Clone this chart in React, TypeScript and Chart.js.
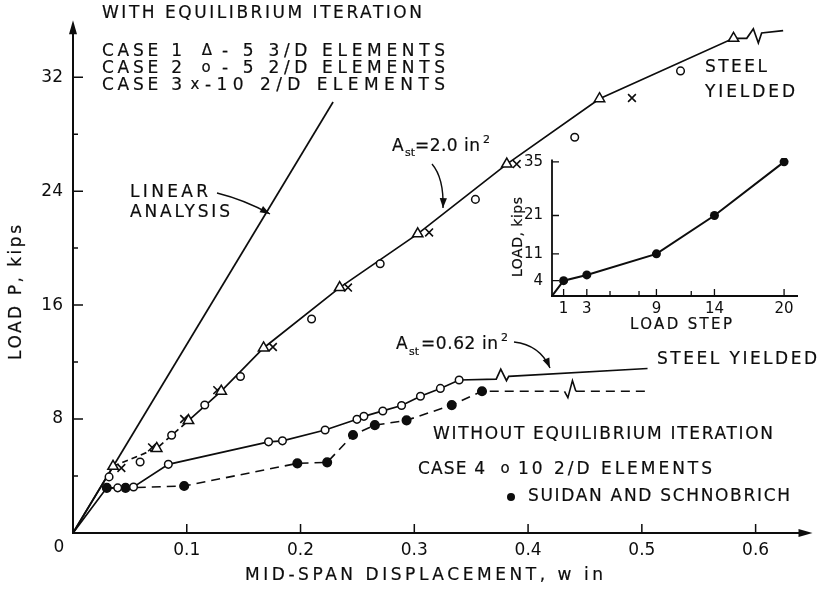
import { useEffect, useRef } from "react";
import { Chart, registerables } from "chart.js";

Chart.register(...registerables);

const FONT = '"DejaVu Sans", "Liberation Sans", sans-serif';
const INK = "#0d0d0d";

// ---- main chart: load P (kips) against mid-span displacement w (in) ----
const xTickValues = [0.1, 0.2, 0.3, 0.4, 0.5, 0.6];
const yTickValues = [8, 16, 24, 32];
const yMinorTickValues = [4, 12, 20, 28];

// linear analysis
const linearW = [0, 0.2286];
const linearP = [0, 30.26];

// A_st = 2.0 in^2, with equilibrium iteration (curve through case 1, break mark at the end)
const steel20W = [0, 0.0352, 0.0736, 0.1015, 0.1303, 0.1675, 0.2344, 0.303, 0.3813, 0.4628, 0.5806, 0.5922, 0.598, 0.6024, 0.6053, 0.6242];
const steel20P = [0, 4.68, 5.94, 7.89, 9.96, 12.99, 17.23, 21.0, 25.9, 30.49, 34.73, 34.73, 35.4, 34.4, 35.1, 35.27];

// case 1: 5 3/D elements
const case1W = [0.0352, 0.0736, 0.1015, 0.1303, 0.1675, 0.2344, 0.303, 0.3813, 0.4628, 0.5806];
const case1P = [4.68, 5.94, 7.89, 9.96, 12.99, 17.23, 21.0, 25.9, 30.49, 34.73];
// case 2: 5 2/D elements
const case2W = [0.0317, 0.059, 0.0867, 0.1158, 0.1472, 0.2097, 0.27, 0.3537, 0.441, 0.534];
const case2P = [3.94, 4.98, 6.86, 8.99, 10.99, 15.02, 18.9, 23.42, 27.78, 32.44];
// case 3: 10 2/D elements
const case3W = [0.0425, 0.0695, 0.0977, 0.1268, 0.1757, 0.2417, 0.313, 0.39, 0.4913];
const case3P = [4.56, 6.01, 8.0, 10.03, 13.06, 17.23, 21.1, 25.9, 30.54];

// A_st = 0.62 in^2, without equilibrium iteration (case 4 curve, break mark, steel yielded)
const steel062W = [0, 0.0297, 0.0393, 0.0532, 0.0838, 0.1719, 0.1841, 0.2216, 0.2496, 0.2557, 0.2723, 0.2888, 0.3054, 0.3229, 0.3394, 0.372, 0.376, 0.381, 0.383, 0.505];
const steel062P = [0, 3.17, 3.17, 3.23, 4.82, 6.4, 6.47, 7.23, 7.98, 8.19, 8.57, 8.95, 9.6, 10.15, 10.74, 10.8, 11.5, 10.7, 11.0, 11.55];

// case 4: 10 2/D elements
const case4W = [0.0393, 0.0532, 0.0838, 0.1719, 0.1841, 0.2216, 0.2496, 0.2557, 0.2723, 0.2888, 0.3054, 0.3229, 0.3394];
const case4P = [3.17, 3.23, 4.82, 6.4, 6.47, 7.23, 7.98, 8.19, 8.57, 8.95, 9.6, 10.15, 10.74];

// Suidan and Schnobrich
const suidanW = [0.0297, 0.0462, 0.0977, 0.1972, 0.2234, 0.2461, 0.2653, 0.2932, 0.3329, 0.3595];
const suidanP = [3.17, 3.17, 3.3, 4.89, 4.96, 6.88, 7.57, 7.91, 8.98, 9.95];
const suidanTailW = [0.432, 0.435, 0.439, 0.442, 0.507];
const suidanTailP = [9.95, 9.5, 10.7, 9.95, 9.95];

// ---- inset: load against load step ----
const stepTicks = [1, 3, 9, 14, 20];
const stepMinorTicks = [5, 7.5, 12];
const loadTicks = [4, 11, 21, 35];
const loadSteps = [0, 1, 3, 9, 14, 20];
const loadKips = [0, 4, 5.5, 11, 21, 35];

const INSET_LEFT = 470;
const INSET_TOP = 140;

const pts = (xs: number[], ys: number[]) => xs.map((x, i) => ({ x, y: ys[i] }));

// lettering: stretched to a given width, lightly stroked for a heavier pen line
function spaced(ctx: CanvasRenderingContext2D, text: string, x: number, y: number, width: number) {
  (ctx as any).letterSpacing = "0px";
  const w = ctx.measureText(text).width;
  const n = Array.from(text).length;
  const ls = n > 1 ? (width - w) / (n - 1) : 0;
  (ctx as any).letterSpacing = ls + "px";
  ctx.fillText(text, x, y);
  ctx.strokeText(text, x, y);
  (ctx as any).letterSpacing = "0px";
}

function label(ctx: CanvasRenderingContext2D, text: string, x: number, y: number) {
  ctx.fillText(text, x, y);
  ctx.strokeText(text, x, y);
}

function arrowHead(ctx: CanvasRenderingContext2D, x: number, y: number, ang: number, len: number, half: number) {
  ctx.beginPath();
  ctx.moveTo(x, y);
  ctx.lineTo(x - len * Math.cos(ang) + half * Math.sin(ang), y - len * Math.sin(ang) - half * Math.cos(ang));
  ctx.lineTo(x - len * Math.cos(ang) - half * Math.sin(ang), y - len * Math.sin(ang) + half * Math.cos(ang));
  ctx.closePath();
  ctx.fill();
}

function curvedArrow(ctx: CanvasRenderingContext2D, x0: number, y0: number, cx: number, cy: number, x1: number, y1: number) {
  ctx.save();
  ctx.lineWidth = 1.4;
  ctx.beginPath();
  ctx.moveTo(x0, y0);
  ctx.quadraticCurveTo(cx, cy, x1, y1);
  ctx.stroke();
  arrowHead(ctx, x1, y1, Math.atan2(y1 - cy, x1 - cx), 10, 3.6);
  ctx.restore();
}

const mainDecor = {
  id: "mainDecor",
  beforeDatasetsDraw(chart: any) {
    const { ctx } = chart;
    const xs = chart.scales.x;
    const ys = chart.scales.y;
    const x0 = xs.getPixelForValue(0);
    const y0 = ys.getPixelForValue(0);
    ctx.save();
    ctx.strokeStyle = INK;
    ctx.fillStyle = INK;
    ctx.lineWidth = 2;
    ctx.lineCap = "butt";
    // axes with arrow heads
    const yTop = ys.getPixelForValue(36);
    const xEnd = xs.getPixelForValue(0.65);
    ctx.beginPath();
    ctx.moveTo(x0, y0 + 1);
    ctx.lineTo(x0, yTop + 8);
    ctx.moveTo(x0 - 1, y0);
    ctx.lineTo(xEnd - 8, y0);
    ctx.stroke();
    arrowHead(ctx, x0, yTop, -Math.PI / 2, 14, 4);
    arrowHead(ctx, xEnd, y0, 0, 14, 4);
    // inward tick marks
    ctx.lineWidth = 1.5;
    ctx.beginPath();
    for (const v of yTickValues) {
      const y = ys.getPixelForValue(v);
      ctx.moveTo(x0, y);
      ctx.lineTo(x0 + 10, y);
    }
    for (const v of yMinorTickValues) {
      const y = ys.getPixelForValue(v);
      ctx.moveTo(x0, y);
      ctx.lineTo(x0 + 5, y);
    }
    for (const v of xTickValues) {
      const x = xs.getPixelForValue(v);
      ctx.moveTo(x, y0);
      ctx.lineTo(x, y0 - 9);
    }
    ctx.stroke();
    ctx.restore();
  },
  afterDraw(chart: any) {
    const { ctx } = chart;
    ctx.save();
    ctx.fillStyle = INK;
    ctx.strokeStyle = INK;
    ctx.lineWidth = 0.2;
    ctx.textBaseline = "middle";
    ctx.textAlign = "left";

    // origin label
    ctx.textAlign = "center";
    ctx.font = `17px ${FONT}`;
    ctx.fillText("0", 59, 548);
    ctx.textAlign = "left";
    ctx.font = `17px ${FONT}`;

    // heading and case key (with equilibrium iteration)
    spaced(ctx, "WITH EQUILIBRIUM ITERATION", 102, 14, 320);
    spaced(ctx, "CASE 1", 102, 52, 80);
    spaced(ctx, "CASE 2", 102, 69, 80);
    spaced(ctx, "CASE 3", 102, 86, 80);
    ctx.textAlign = "center";
    ctx.font = `15px ${FONT}`;
    label(ctx, "\u0394", 207, 51);
    label(ctx, "o", 206, 68);
    label(ctx, "x", 195, 85);
    ctx.textAlign = "left";
    ctx.font = `17px ${FONT}`;
    spaced(ctx, "- 5 3/D ELEMENTS", 222, 52, 223);
    spaced(ctx, "- 5 2/D ELEMENTS", 222, 69, 223);
    spaced(ctx, "-10 2/D ELEMENTS", 205, 86, 240);

    // linear analysis
    spaced(ctx, "LINEAR", 130, 193, 78);
    spaced(ctx, "ANALYSIS", 130, 213, 100);
    curvedArrow(ctx, 217, 193, 245, 200, 270, 214);

    // A_st = 2.0 in^2
    ctx.font = `17px ${FONT}`;
    label(ctx, "A", 392, 147);
    ctx.font = `11px ${FONT}`;
    label(ctx, "st", 405, 153);
    ctx.font = `17px ${FONT}`;
    spaced(ctx, "=2.0 in", 415, 147, 65);
    ctx.font = `11px ${FONT}`;
    label(ctx, "2", 483, 140);
    curvedArrow(ctx, 432, 164, 444, 178, 443, 208);

    // steel yielded (upper)
    ctx.font = `17px ${FONT}`;
    spaced(ctx, "STEEL", 705, 68, 62);
    spaced(ctx, "YIELDED", 705, 93, 90);

    // A_st = 0.62 in^2
    label(ctx, "A", 396, 345);
    ctx.font = `11px ${FONT}`;
    label(ctx, "st", 409, 352);
    ctx.font = `17px ${FONT}`;
    spaced(ctx, "=0.62 in", 421, 345, 77);
    ctx.font = `11px ${FONT}`;
    label(ctx, "2", 501, 338);
    curvedArrow(ctx, 514, 342, 540, 345, 550, 368);

    ctx.font = `17px ${FONT}`;
    spaced(ctx, "STEEL YIELDED", 657, 360, 160);

    // without equilibrium iteration key
    spaced(ctx, "WITHOUT EQUILIBRIUM ITERATION", 433, 435, 340);
    spaced(ctx, "CASE 4", 418, 470, 67);
    ctx.textAlign = "center";
    ctx.font = `15px ${FONT}`;
    label(ctx, "o", 505, 469);
    ctx.textAlign = "left";
    ctx.font = `17px ${FONT}`;
    spaced(ctx, "10 2/D ELEMENTS", 518, 470, 194);
    ctx.beginPath();
    ctx.arc(511, 497, 4, 0, Math.PI * 2);
    ctx.fill();
    spaced(ctx, "SUIDAN AND SCHNOBRICH", 528, 497, 262);

    // axis titles
    spaced(ctx, "MID-SPAN DISPLACEMENT, w in", 245, 576, 358);
    ctx.save();
    ctx.translate(17, 360);
    ctx.rotate(-Math.PI / 2);
    spaced(ctx, "LOAD P, kips", 0, 0, 135);
    ctx.restore();

    ctx.restore();
  },
};

const insetDecor = {
  id: "insetDecor",
  beforeDatasetsDraw(chart: any) {
    const { ctx } = chart;
    const xs = chart.scales.x;
    const ys = chart.scales.y;
    const x0 = xs.getPixelForValue(0);
    const y0 = ys.getPixelForValue(0);
    ctx.save();
    ctx.strokeStyle = INK;
    ctx.lineWidth = 1.8;
    ctx.beginPath();
    ctx.moveTo(x0, y0 + 1);
    ctx.lineTo(x0, ys.getPixelForValue(35.6));
    ctx.moveTo(x0 - 1, y0);
    ctx.lineTo(xs.getPixelForValue(21.2), y0);
    ctx.stroke();
    ctx.lineWidth = 1.3;
    ctx.beginPath();
    for (const v of stepTicks) {
      const x = xs.getPixelForValue(v);
      ctx.moveTo(x, y0);
      ctx.lineTo(x, y0 - 7);
    }
    for (const v of stepMinorTicks) {
      const x = xs.getPixelForValue(v);
      ctx.moveTo(x, y0);
      ctx.lineTo(x, y0 - 5);
    }
    for (const v of loadTicks) {
      const y = ys.getPixelForValue(v);
      ctx.moveTo(x0, y);
      ctx.lineTo(x0 + 7, y);
    }
    ctx.stroke();
    ctx.restore();
  },
  afterDraw(chart: any) {
    const { ctx } = chart;
    ctx.save();
    ctx.translate(-INSET_LEFT, -INSET_TOP);
    ctx.fillStyle = INK;
    ctx.strokeStyle = INK;
    ctx.lineWidth = 0.2;
    ctx.textBaseline = "middle";
    ctx.textAlign = "left";
    ctx.font = `15px ${FONT}`;
    spaced(ctx, "LOAD STEP", 630, 325, 102);
    ctx.translate(518, 277);
    ctx.rotate(-Math.PI / 2);
    ctx.font = `14px ${FONT}`;
    spaced(ctx, "LOAD, kips", 0, 0, 80);
    ctx.restore();
  },
};

function fixedTicks(values: number[]) {
  return (scale: any) => {
    scale.ticks = values.map((value) => ({ value }));
  };
}

export default function App() {
  const mainRef = useRef<HTMLCanvasElement>(null);
  const insetRef = useRef<HTMLCanvasElement>(null);

  useEffect(() => {
    document.body.style.margin = "0";
    const line = (data: any, extra: any = {}) => ({
      data,
      showLine: true,
      pointRadius: 0,
      borderColor: INK,
      borderWidth: 1.7,
      tension: 0,
      ...extra,
    });
    const marks = (data: any, extra: any) => ({
      data,
      showLine: false,
      pointBorderColor: INK,
      pointBackgroundColor: "#ffffff",
      pointBorderWidth: 1.5,
      ...extra,
    });

    const main = new Chart(mainRef.current!, {
      type: "scatter",
      data: {
        datasets: [
          marks(pts(case1W, case1P), { label: "Case 1", pointStyle: "triangle", pointRadius: 6 }),
          marks(pts(case3W, case3P), { label: "Case 3", pointStyle: "crossRot", pointRadius: 5.5, pointBorderWidth: 1.6 }),
          marks(pts(case2W, case2P), { label: "Case 2", pointStyle: "circle", pointRadius: 3.8 }),
          marks(pts(case4W, case4P), { label: "Case 4", pointStyle: "circle", pointRadius: 3.8 }),
          marks(pts(suidanW, suidanP), { label: "Suidan and Schnobrich", pointStyle: "circle", pointRadius: 4.3, pointBackgroundColor: INK }),
          line(pts(linearW, linearP), { label: "Linear analysis" }),
          line(pts(steel20W, steel20P), {
            label: "Ast = 2.0",
            segment: {
              borderDash: (c: any) => (c.p0.parsed.x >= 0.03 && c.p1.parsed.x <= 0.102 ? [6, 4] : undefined),
            },
          }),
          line(pts(steel062W, steel062P), { label: "Ast = 0.62" }),
          line(pts(suidanW.concat(suidanTailW), suidanP.concat(suidanTailP)), {
            label: "Suidan line",
            borderWidth: 1.6,
            borderDash: [9, 6],
            segment: {
              borderDash: (c: any) => (c.p0.parsed.x >= 0.431 && c.p1.parsed.x <= 0.443 ? [] : undefined),
            },
          }),
        ],
      },
      options: {
        responsive: false,
        animation: false,
        events: [],
        layout: { padding: { top: 11, right: 2, left: 0, bottom: 0 } },
        plugins: { legend: { display: false }, tooltip: { enabled: false } },
        scales: {
          x: {
            type: "linear",
            min: 0,
            max: 0.65,
            border: { display: false },
            grid: { display: false, drawTicks: false },
            afterBuildTicks: fixedTicks(xTickValues),
            afterFit: (s: any) => {
              s.height = 58;
            },
            ticks: {
              padding: 7,
              color: INK,
              font: { family: FONT, size: 17 },
              maxRotation: 0,
              callback: (v: any) => Number(v).toFixed(1),
            },
          },
          y: {
            type: "linear",
            min: 0,
            max: 36,
            border: { display: false },
            grid: { display: false, drawTicks: false },
            afterBuildTicks: fixedTicks(yTickValues),
            afterFit: (s: any) => {
              s.width = 73;
            },
            ticks: {
              padding: 10,
              color: INK,
              font: { family: FONT, size: 17 },
              callback: (v: any) => String(v),
            },
          },
        },
      },
      plugins: [mainDecor],
    } as any);

    const inset = new Chart(insetRef.current!, {
      type: "scatter",
      data: {
        datasets: [
          {
            label: "Load",
            data: pts(loadSteps, loadKips),
            showLine: true,
            borderColor: INK,
            borderWidth: 2,
            tension: 0,
            pointRadius: loadSteps.map((s) => (s === 0 ? 0 : 4.5)),
            pointBackgroundColor: INK,
            pointBorderColor: INK,
            pointBorderWidth: 0,
          },
        ],
      },
      options: {
        responsive: false,
        animation: false,
        events: [],
        layout: { padding: { top: 17, right: 17, left: 0, bottom: 0 } },
        plugins: { legend: { display: false }, tooltip: { enabled: false } },
        scales: {
          x: {
            type: "linear",
            min: 0,
            max: 21.2,
            border: { display: false },
            grid: { display: false, drawTicks: false },
            afterBuildTicks: fixedTicks(stepTicks),
            afterFit: (s: any) => {
              s.height = 44;
            },
            ticks: { padding: 4, color: INK, font: { family: FONT, size: 15 }, maxRotation: 0 },
          },
          y: {
            type: "linear",
            min: 0,
            max: 36,
            border: { display: false },
            grid: { display: false, drawTicks: false },
            afterBuildTicks: fixedTicks(loadTicks),
            afterFit: (s: any) => {
              s.width = 82;
            },
            ticks: { padding: 9, color: INK, font: { family: FONT, size: 15 } },
          },
        },
      },
      plugins: [insetDecor],
    } as any);

    return () => {
      main.destroy();
      inset.destroy();
    };
  }, []);

  return (
    <div style={{ position: "relative", width: 820, height: 591, background: "#ffffff" }}>
      <canvas ref={mainRef} width={820} height={591} style={{ display: "block" }} />
      <canvas
        ref={insetRef}
        width={345}
        height={200}
        style={{ position: "absolute", left: INSET_LEFT, top: INSET_TOP }}
      />
    </div>
  );
}
